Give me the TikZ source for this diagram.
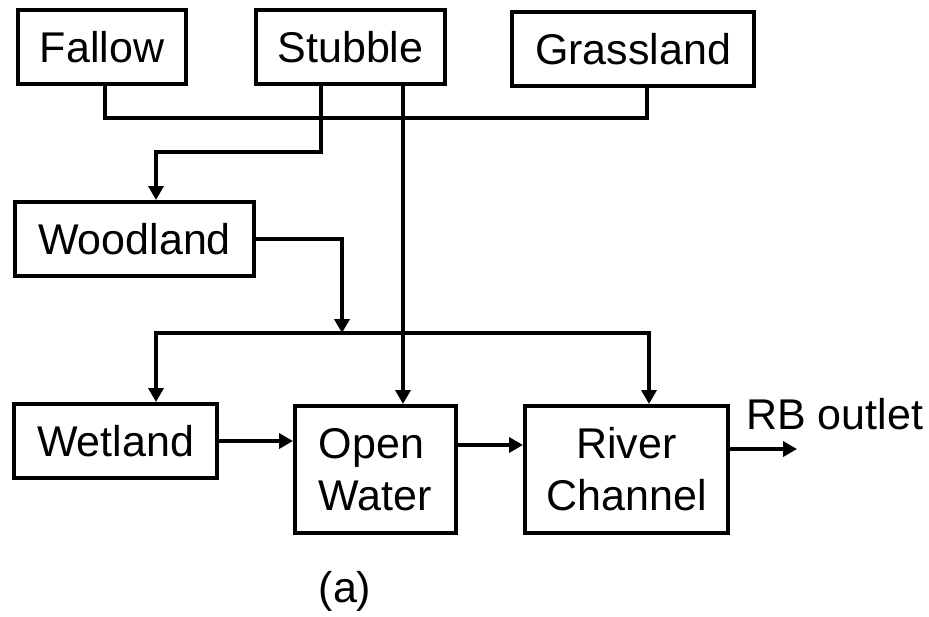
\documentclass[tikz,border=0pt]{standalone}
\usepackage{fontspec}
\setmainfont{Liberation Sans}
\usetikzlibrary{arrows.meta}
\begin{document}
\begin{tikzpicture}[x=1pt,y=-1pt,
  box/.style={draw,line width=4pt,minimum height=74pt,inner sep=0pt,
              font=\fontsize{43}{52}\selectfont},
  link/.style={line width=4pt},
  flow/.style={link,-{Triangle[length=14pt,width=15pt]}},
  lbl/.style={font=\fontsize{43}{52}\selectfont,inner sep=0pt}]
\useasboundingbox (0,0) rectangle (929,616);

% land-use boxes
\node[box,minimum width=168pt] (fallow) at (102,47) {Fallow};
\node[box,minimum width=189pt] (stubble) at (350.5,47) {Stubble};
\node[box,minimum width=242pt] (grass) at (633,49) {Grassland};
\node[box,minimum width=239pt] (wood) at (134.5,239) {Woodland};
\node[box,minimum width=203pt] (wet) at (115.5,441) {Wetland};
\node[box,minimum width=161pt,minimum height=127pt,align=left] (open) at (375.5,469.5) {Open\\Water};
\node[box,minimum width=203pt,minimum height=127pt,align=center] (river) at (626.5,469.5) {River\\Channel};

% collector levels and junctions
\coordinate (topbus) at (0,118);
\coordinate (midbus) at (0,152);
\coordinate (lowbus) at (0,333);
\coordinate (join) at (342,333);
\coordinate (outlet) at (797,449);

\coordinate (fA) at ([xshift=3pt]fallow.south);
\coordinate (gA) at ([xshift=14pt]grass.south);
\coordinate (sA) at ([xshift=-29.5pt]stubble.south);
\coordinate (sB) at ([xshift=52.5pt]stubble.south);
\coordinate (wA) at ([xshift=21.5pt]wood.north);
\coordinate (oA) at ([xshift=27.5pt]open.north);
\coordinate (weA) at ([xshift=40.5pt]wet.north);
\coordinate (rA) at ([xshift=22.5pt]river.north);

% upper collector: fallow -- grassland
\draw[link] (fA) |- (gA |- topbus) -- (gA);
% stubble to woodland
\draw[flow] (sA) |- (wA |- midbus) -- (wA);
% stubble straight to open water
\draw[flow] (sB) -- (oA);
% woodland to lower collector
\draw[flow] (wood.east) -| (join);
% lower collector feeding wetland and river channel
\draw[link,{Triangle[length=14pt,width=15pt]}-{Triangle[length=14pt,width=15pt]}]
  (weA) |- (rA |- lowbus) -- (rA);
% water chain
\draw[flow] (wet.east) -- (open.west |- wet.east);
\draw[flow] ([yshift=24.5pt]open.east) -- ([yshift=24.5pt]river.west);
\draw[flow] (river.east |- outlet) -- (outlet);

\node[lbl,anchor=base west] (rb) at (746,429) {RB outlet};
\node[lbl,anchor=base] (cap) at (345,602) {(a)};
\end{tikzpicture}
\end{document}
